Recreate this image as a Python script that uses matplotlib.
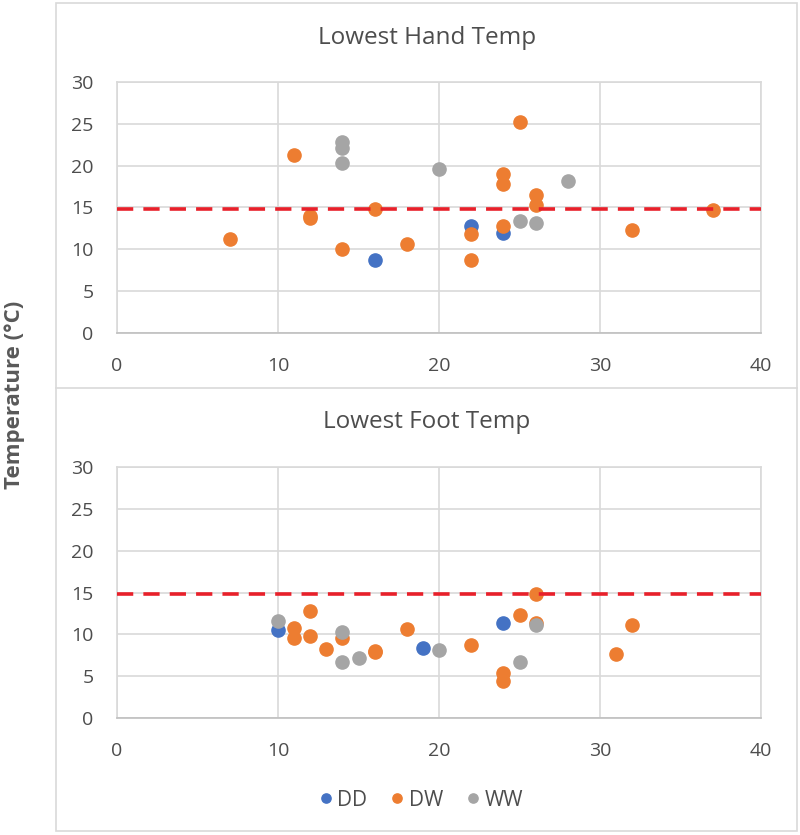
import matplotlib
matplotlib.use("Agg")
import matplotlib.pyplot as plt
from matplotlib.lines import Line2D
from matplotlib.patches import Rectangle

plt.rcParams['font.family'] = ['Open Sans', 'DejaVu Sans']

# hand temps
hand_dd_x = [16, 22, 24]
hand_dd_y = [8.7, 12.8, 11.9]
hand_dw_x = [7, 11, 12, 12, 14, 16, 18, 22, 22, 24, 24, 24, 25, 26, 26, 32, 37]
hand_dw_y = [11.2, 21.3, 14.0, 13.7, 10.0, 14.8, 10.6, 11.8, 8.7, 19.0, 17.8, 12.8, 25.2, 16.5, 15.3, 12.3, 14.7]
hand_ww_x = [14, 14, 14, 20, 25, 26, 28]
hand_ww_y = [22.8, 22.1, 20.3, 19.6, 13.4, 13.2, 18.2]

# foot temps
foot_dd_x = [10, 19, 24]
foot_dd_y = [10.5, 8.4, 11.3]
foot_dw_x = [11, 11, 12, 12, 13, 14, 16, 16, 18, 22, 24, 24, 25, 26, 26, 31, 32]
foot_dw_y = [10.8, 9.6, 12.8, 9.8, 8.3, 9.6, 7.9, 8.0, 10.6, 8.7, 5.4, 4.4, 12.3, 14.8, 11.4, 7.6, 11.1]
foot_ww_x = [10, 14, 14, 15, 20, 25, 26]
foot_ww_y = [11.6, 10.3, 6.75, 7.2, 8.1, 6.7, 11.1]

threshold = 14.8
x_ticks = [0, 10, 20, 30, 40]
y_ticks = [0, 5, 10, 15, 20, 25, 30]

c_dd = "#4472C4"
c_dw = "#ED7D31"
c_ww = "#A5A5A5"
txt = "#4D4D4D"
grid = "#D9D9D9"

W, H = 800, 835
fig = plt.figure(figsize=(W / 100, H / 100), dpi=100)

# outer frame + separator between the two charts
fig.add_artist(Rectangle((56 / W, 1 - 831 / H), (797 - 56) / W, (831 - 3) / H,
                         transform=fig.transFigure, fill=False, edgecolor=grid, lw=1.2))
fig.add_artist(Line2D([56 / W, 797 / W], [1 - 388 / H, 1 - 388 / H],
                      transform=fig.transFigure, color=grid, lw=1.2))


def panel(top_px, title, title_y, dd, dw, ww):
    ax = fig.add_axes([117 / W, 1 - (top_px + 251) / H, 644 / W, 251 / H])
    ax.plot(dd[0], dd[1], "o", color=c_dd, ms=9.5, zorder=3, label="DD")
    ax.plot(dw[0], dw[1], "o", color=c_dw, ms=9.5, zorder=3, label="DW")
    ax.plot(ww[0], ww[1], "o", color=c_ww, ms=9.5, zorder=3, label="WW")
    ax.axhline(threshold, color="#E8202A", lw=2.6, ls=(0, (4.5, 2.8)), zorder=4)
    ax.set_xlim(0, 40)
    ax.set_ylim(0, 30)
    ax.set_xticks(x_ticks)
    ax.set_yticks(y_ticks)
    ax.grid(True, color=grid, lw=1.2)
    ax.set_axisbelow(True)
    for s in ax.spines.values():
        s.set_color(grid)
        s.set_linewidth(1.2)
    ax.spines["bottom"].set_color("#BFBFBF")
    ax.tick_params(length=0, labelsize=14, labelcolor=txt)
    ax.tick_params(axis="y", pad=17)
    ax.tick_params(axis="x", pad=17)
    fig.text(427 / W, 1 - title_y / H, title, ha="center", va="center",
             fontsize=17.5, color=txt)
    return ax


panel(82, "Lowest Hand Temp", 38, (hand_dd_x, hand_dd_y), (hand_dw_x, hand_dw_y),
      (hand_ww_x, hand_ww_y))
ax2 = panel(467, "Lowest Foot Temp", 422, (foot_dd_x, foot_dd_y), (foot_dw_x, foot_dw_y),
            (foot_ww_x, foot_ww_y))

fig.text(15 / W, 1 - 395 / H, "Temperature (°C)", rotation=90, ha="center", va="center",
         fontsize=16, fontweight="bold", color="#595959")

handles, labels = ax2.get_legend_handles_labels()
leg = fig.legend(handles, labels, loc="center", bbox_to_anchor=(422 / W, 1 - 800 / H),
                 ncol=3, frameon=False, fontsize=15, markerscale=0.7,
                 handlelength=0.5, handletextpad=0.3, columnspacing=1.2)
for t in leg.get_texts():
    t.set_color(txt)

fig.savefig("out.png", dpi=100)
